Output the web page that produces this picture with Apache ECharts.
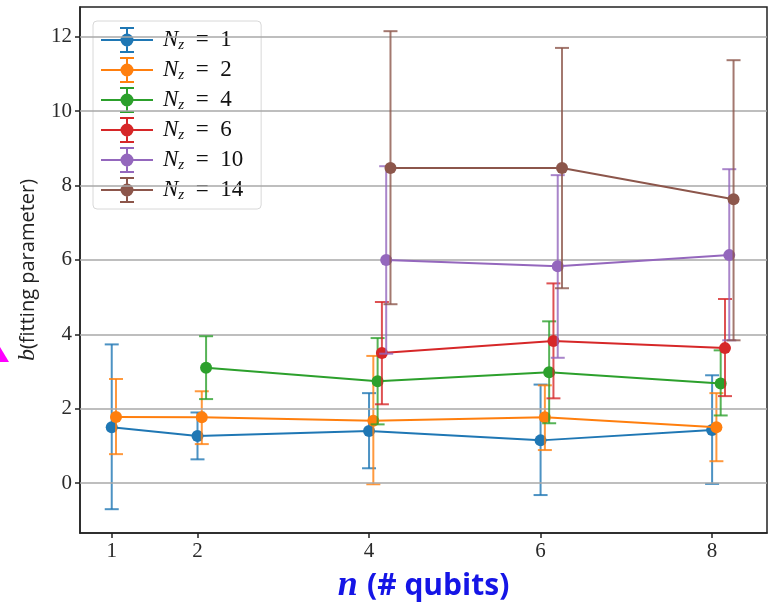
<!DOCTYPE html>
<html>
<head>
<meta charset="utf-8">
<script src="https://cdn.jsdelivr.net/npm/echarts@6/dist/echarts.min.js"></script>
<style>
    html, body { margin: 0; padding: 0; background: #fff; }
    #chart { width: 768px; height: 604px; }
</style>
</head>
<body>
<div id="chart"></div>
<script>
// x tick labels (n qubits) and y tick labels
const xTicks = [1, 2, 4, 6, 8]
const yTicks = [0, 2, 4, 6, 8, 10, 12]

// legend names and small horizontal dodge of each series
const names = ['N_z = 1', 'N_z = 2', 'N_z = 4', 'N_z = 6', 'N_z = 10', 'N_z = 14']
const dodge = [0, 0.05, 0.1, 0.15, 0.2, 0.25]
const colors = ['#1f77b4', '#ff7f0e', '#2ca02c', '#d62728', '#9467bd', '#8c564b']

// N_z = 1
const nz1N = [1, 2, 4, 6, 8]
const nz1B = [1.5, 1.27, 1.4, 1.15, 1.43]
const nz1Lo = [-0.7, 0.64, 0.4, -0.32, -0.02]
const nz1Hi = [3.73, 1.9, 2.42, 2.65, 2.9]
// N_z = 2
const nz2N = [1, 2, 4, 6, 8]
const nz2B = [1.78, 1.77, 1.68, 1.77, 1.5]
const nz2Lo = [0.78, 1.05, -0.03, 0.89, 0.59]
const nz2Hi = [2.8, 2.47, 3.42, 2.63, 2.42]
// N_z = 4
const nz4N = [2, 4, 6, 8]
const nz4B = [3.1, 2.74, 2.98, 2.68]
const nz4Lo = [2.26, 1.58, 1.61, 1.82]
const nz4Hi = [3.95, 3.9, 4.35, 3.57]
// N_z = 6
const nz6N = [4, 6, 8]
const nz6B = [3.5, 3.82, 3.63]
const nz6Lo = [2.12, 2.28, 2.34]
const nz6Hi = [4.87, 5.37, 4.95]
// N_z = 10
const nz10N = [4, 6, 8]
const nz10B = [6.0, 5.83, 6.13]
const nz10Lo = [3.48, 3.37, 3.84]
const nz10Hi = [8.52, 8.28, 8.44]
// N_z = 14
const nz14N = [4, 6, 8]
const nz14B = [8.47, 8.47, 7.63]
const nz14Lo = [4.81, 5.24, 3.84]
const nz14Hi = [12.15, 11.7, 11.37]

const groups = [
    [nz1N, nz1B, nz1Lo, nz1Hi],
    [nz2N, nz2B, nz2Lo, nz2Hi],
    [nz4N, nz4B, nz4Lo, nz4Hi],
    [nz6N, nz6B, nz6Lo, nz6Hi],
    [nz10N, nz10B, nz10Lo, nz10Hi],
    [nz14N, nz14B, nz14Lo, nz14Hi],
]

// legend glyph: line + dot + error bar with caps (all subpaths clockwise)
const errIcon = 'path://M0,12h52v2h-52z M19.5,13a6.5,6.5 0 1,1 13,0a6.5,6.5 0 1,1 -13,0z M25,0h2v26h-2z M19,0h14v2h-14z M19,24h14v2h-14z'

const serif = 'Liberation Serif'

let series = []
groups.forEach((g, k) => {
    const [ns, b, lo, hi] = g
    const x = ns.map(n => n + dodge[k])
    // error bars
    series.push({
        name: names[k],
        type: 'custom',
        z: 2 + k * 2,
        data: x.map((v, i) => [v, lo[i], hi[i]]),
        encode: { x: 0, y: [1, 2] },
        renderItem: (params, api) => {
            const top = api.coord([api.value(0), api.value(2)])
            const bot = api.coord([api.value(0), api.value(1)])
            const cap = 7
            const style = { stroke: colors[k], lineWidth: 2, opacity: 0.8 }
            return {
                type: 'group',
                children: [
                    { type: 'line', shape: { x1: top[0], y1: top[1], x2: bot[0], y2: bot[1] }, style },
                    { type: 'line', shape: { x1: top[0] - cap, y1: top[1], x2: top[0] + cap, y2: top[1] }, style },
                    { type: 'line', shape: { x1: bot[0] - cap, y1: bot[1], x2: bot[0] + cap, y2: bot[1] }, style },
                ],
            }
        },
    })
    // line + markers
    series.push({
        name: names[k],
        type: 'line',
        z: 3 + k * 2,
        symbol: 'circle',
        symbolSize: 12,
        itemStyle: { color: colors[k] },
        lineStyle: { color: colors[k], width: 2 },
        data: x.map((v, i) => [v, b[i]]),
        animation: false,
    })
})

// horizontal grid lines from the y tick list
series.push({
    type: 'line',
    data: [],
    silent: true,
    z: 1,
    markLine: {
        symbol: 'none',
        silent: true,
        label: { show: false },
        lineStyle: { color: '#a9a9a9', width: 1.6, type: 'solid' },
        data: yTicks.map(v => ({ yAxis: v })),
    },
})

let option = {
    animation: false,
    backgroundColor: '#fff',
    grid: {
        left: 80,
        right: 1,
        top: 7,
        bottom: 71,
        outerBoundsMode: 'none',
        show: true,
        borderColor: '#222',
        borderWidth: 1.5,
    },
    legend: {
        orient: 'vertical',
        left: 93,
        top: 21,
        itemWidth: 52,
        itemHeight: 26,
        itemGap: 4,
        padding: [6, 18, 6, 8],
        backgroundColor: 'rgba(255,255,255,0.85)',
        borderColor: '#d8d8d8',
        borderWidth: 1,
        borderRadius: 4,
        data: names.map((n, k) => ({ name: n, icon: errIcon, itemStyle: { color: colors[k] } })),
        formatter: (name) => {
            return '{n|N}{s|z}{e|  =  ' + name.slice(6) + '}'
        },
        textStyle: {
            rich: {
                n: { fontFamily: serif, fontStyle: 'italic', fontSize: 23, color: '#111', lineHeight: 26, padding: [0, 0, 0, 5] },
                s: { fontFamily: serif, fontStyle: 'italic', fontSize: 15, color: '#111', verticalAlign: 'bottom', lineHeight: 26, padding: [10, 0, 0, 0] },
                e: { fontFamily: serif, fontSize: 23, color: '#111', lineHeight: 26 },
            },
        },
    },
    xAxis: {
        type: 'value',
        min: 0.63,
        max: 8.64,
        name: '{i|n} {t|(# qubits)}',
        nameLocation: 'middle',
        nameGap: 35,
        nameTextStyle: {
            rich: {
                i: { fontFamily: serif, fontStyle: 'italic', fontWeight: 'bold', fontSize: 36, color: '#1515e6', padding: [0, 6, 0, 0] },
                t: { fontFamily: 'Open Sans', fontWeight: 'bold', fontSize: 30, color: '#1515e6' },
            },
        },
        axisLine: { onZero: false, lineStyle: { color: '#222', width: 1.5 } },
        axisTick: { show: true, length: 5, customValues: xTicks, lineStyle: { color: '#222', width: 1.5 } },
        axisLabel: { customValues: xTicks, fontFamily: serif, fontSize: 21, color: '#2a2a2a', margin: 8 },
        splitLine: { show: false },
    },
    yAxis: {
        type: 'value',
        min: -1.34,
        max: 12.8,
        name: '{i|b}{t|(fitting parameter)}',
        nameLocation: 'middle',
        nameRotate: 90,
        nameGap: 32,
        nameTextStyle: {
            rich: {
                i: { fontFamily: serif, fontStyle: 'italic', fontSize: 24, color: '#222' },
                t: { fontFamily: 'Open Sans', fontSize: 20, color: '#222' },
            },
        },
        axisLine: { show: true, onZero: false, lineStyle: { color: '#222', width: 1.5 } },
        axisTick: { show: true, length: 5, customValues: yTicks, lineStyle: { color: '#222', width: 1.5 } },
        axisLabel: { customValues: yTicks, fontFamily: serif, fontSize: 21, color: '#2a2a2a', margin: 8 },
        splitLine: { show: false },
    },
    graphic: [
        {
            type: 'polygon',
            shape: { points: [[0, 347], [9, 362], [0, 362]] },
            style: { fill: '#ff00ff' },
        },
    ],
    series: series,
}

let myChart = echarts.init(document.getElementById('chart'))
myChart.setOption(option)
</script>
</body>
</html>
